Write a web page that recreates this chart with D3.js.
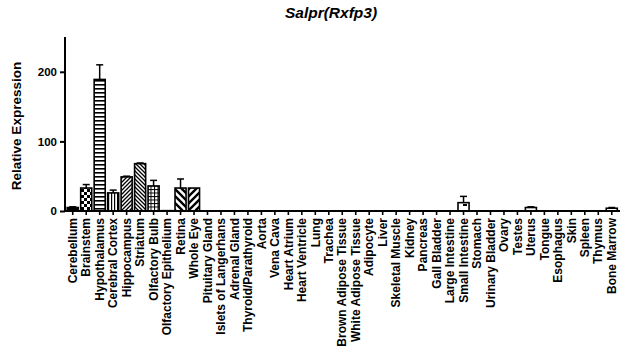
<!DOCTYPE html>
<html><head><meta charset="utf-8">
<script src="https://cdn.jsdelivr.net/npm/d3@7"></script>
<style>body{margin:0;background:#fff}svg{display:block}text{font-family:"Liberation Sans",Arial,sans-serif;font-weight:bold;fill:#000}</style>
</head><body>
<script>
const categories = ["Cerebellum","Brainstem","Hypothalamus","Cerebral Cortex","Hippocampus","Striatum","Olfactory Bulb","Olfactory Epithelium","Retina","Whole Eye","Pituitary Gland","Islets of Langerhans","Adrenal Gland","Thyroid/Parathyroid","Aorta","Vena Cava","Heart Atrium","Heart Ventricle","Lung","Trachea","Brown Adipose Tissue","White Adipose Tissue","Adipocyte","Liver","Skeletal Muscle","Kidney","Pancreas","Gall Bladder","Large Intestine","Small Intestine","Stomach","Urinary Bladder","Ovary","Testes","Uterus","Tongue","Esophagus","Skin","Spleen","Thymus","Bone Marrow"];
const values = [5,33,189,26,49,68,36,0.5,33,33,0,0,0,0,0,0,0,0,0,0,0,0,0,0,0,0,0,0,0,12,0,0,0,0,5,0,0,0,0,0,4];
const errors = [1,5,21,4,1,1,8,0,13,0.5,0,0,0,0,0,0,0,0,0,0,0,0,0,0,0,0,0,0,0,9,0,0,0,0,1,0,0,0,0,0,1];
const yTicks = [0,100,200];
const title = "Salpr(Rxfp3)";
const yTitle = "Relative Expression";
const fillKinds = ["solid","checker","hlines","vlines","diagA","diagB","grid","none","wideB","wideA","none","none","none","none","none","none","none","none","none","none","none","none","none","none","none","none","none","none","none","dots","none","none","none","none","none","none","none","none","none","none","none"];

const W=624,H=360;
const svg=d3.select("body").append("svg").attr("width",W).attr("height",H);
const defs=svg.append("defs");
function pat(id,w,h,draw){const p=defs.append("pattern").attr("id",id).attr("patternUnits","userSpaceOnUse").attr("width",w).attr("height",h);p.append("rect").attr("width",w).attr("height",h).attr("fill","#fff");draw(p);}
pat("checker",6,6,p=>{p.append("rect").attr("width",3).attr("height",3).attr("fill","#000");p.append("rect").attr("x",3).attr("y",3).attr("width",3).attr("height",3).attr("fill","#000");});
pat("hlines",4,4,p=>p.append("rect").attr("y",0).attr("width",4).attr("height",1.6).attr("fill","#000"));
pat("vlines",3,4,p=>p.append("rect").attr("x",0).attr("width",1.2).attr("height",4).attr("fill","#000"));
pat("diagA",4,4,p=>p.append("path").attr("d","M-1,5L5,-1M-1,1L1,-1M3,5L5,3").attr("stroke","#000").attr("stroke-width",1.3));
pat("diagB",4,4,p=>p.append("path").attr("d","M-1,-1L5,5M3,-1L5,1M-1,3L1,5").attr("stroke","#000").attr("stroke-width",1.3));
pat("grid",3.5,3.5,p=>{p.append("rect").attr("width",3.5).attr("height",1).attr("fill","#000");p.append("rect").attr("width",1).attr("height",3.5).attr("fill","#000");});
pat("wideA",7,7,p=>p.append("path").attr("d","M-1,8L8,-1M-2,2L2,-2M5,9L9,5").attr("stroke","#000").attr("stroke-width",2.4));
pat("wideB",7,7,p=>p.append("path").attr("d","M-1,-1L8,8M5,-2L9,2M-2,5L2,9").attr("stroke","#000").attr("stroke-width",2.4));
pat("dots",10,10,p=>p.append("rect").attr("x",3).attr("y",4).attr("width",4).attr("height",2).attr("fill","#000"));

const x=d3.scaleBand().domain(categories).range([66,618.5]).paddingInner(0.18).paddingOuter(0.09);
const y=d3.scaleLinear().domain([0,250]).range([211,37]);

const fillOf=i=>fillKinds[i]==="solid"?"#000":fillKinds[i]==="none"?"#fff":`url(#${fillKinds[i]})`;

const bars=svg.append("g");
categories.forEach((c,i)=>{
  const v=values[i]; if(v<=0) return;
  const cx=x(c)+x.bandwidth()/2;
  if(errors[i]>0.6){
    bars.append("line").attr("x1",cx).attr("x2",cx).attr("y1",y(v)).attr("y2",y(v+errors[i])).attr("stroke","#000").attr("stroke-width",1.5);
    bars.append("line").attr("x1",cx-3.5).attr("x2",cx+3.5).attr("y1",y(v+errors[i])).attr("y2",y(v+errors[i])).attr("stroke","#000").attr("stroke-width",1.5);
  }
  bars.append("rect").attr("x",x(c)).attr("y",y(v)).attr("width",x.bandwidth()).attr("height",y(0)-y(v))
    .attr("fill",fillOf(i)).attr("stroke","#000").attr("stroke-width",1.6);
});

// y axis
const ya=svg.append("g").attr("transform","translate(65,0)").call(d3.axisLeft(y).tickValues(yTicks).tickSize(5).tickPadding(3));
ya.select(".domain").attr("stroke-width",2).attr("d",`M0,${y(250)}V${y(0)}`);
ya.selectAll(".tick line").attr("stroke-width",2);
ya.selectAll(".tick text").style("font-size","11.5px");

// x axis
const xa=svg.append("g").attr("transform",`translate(0,${y(0)})`).call(d3.axisBottom(x).tickSize(4).tickPadding(3));
xa.select(".domain").attr("stroke-width",2).attr("d","M65,0H620");
xa.selectAll(".tick line").attr("stroke-width",1.6);
xa.selectAll(".tick text").style("font-size","12px").attr("text-anchor","end")
  .attr("transform","rotate(-90)").attr("x",-7).attr("y",0).attr("dy","0.35em");

svg.append("text").attr("x",331).attr("y",18).attr("text-anchor","middle").style("font-size","15.5px").style("font-style","italic").text(title);
svg.append("text").attr("transform","translate(21,126) rotate(-90)").attr("text-anchor","middle").style("font-size","13.5px").text(yTitle);
</script>
</body></html>
